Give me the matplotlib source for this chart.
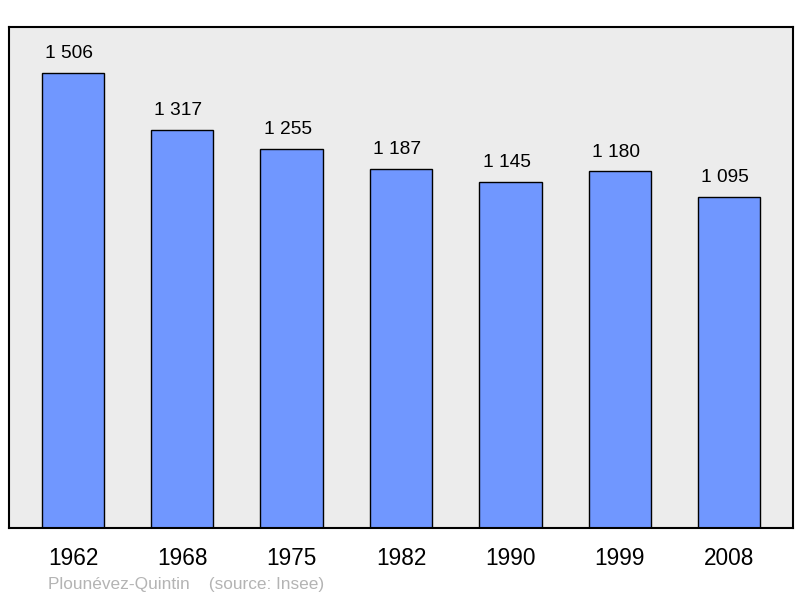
import matplotlib.pyplot as plt

years = ['1962', '1968', '1975', '1982', '1990', '1999', '2008']
population = [1506, 1317, 1255, 1187, 1145, 1180, 1095]
value_labels = ['1 506', '1 317', '1 255', '1 187', '1 145', '1 180', '1 095']

plt.rcParams['font.family'] = ['Liberation Sans', 'DejaVu Sans']

fig = plt.figure(figsize=(8, 5.98), dpi=100)
ax = fig.add_axes([9 / 800, 1 - 528 / 598, 784 / 800, 501 / 598])
ax.set_facecolor('#ececec')

x = range(len(years))
ax.bar(x, population, width=0.57, color='#7097ff', edgecolor='black', linewidth=1, zorder=2)

# valeurs au-dessus des barres
for i, v in enumerate(population):
    ax.text(i - 0.035, v + 36, value_labels[i], ha='center', va='bottom', fontsize=13.8)

ax.set_xlim(-0.585, 6.585)
ax.set_ylim(0, 1658)
ax.set_xticks(list(x))
ax.set_xticklabels(years, fontsize=16.3)
ax.tick_params(axis='x', length=0, pad=14)
ax.set_yticks([])
for s in ax.spines.values():
    s.set_linewidth(1.5)

fig.text(48 / 800, 1 - 585 / 598, 'Plounévez-Quintin    (source: Insee)', color='#b4b4b4',
         fontsize=12.4, va='center')

fig.savefig('out.png', dpi=100)
